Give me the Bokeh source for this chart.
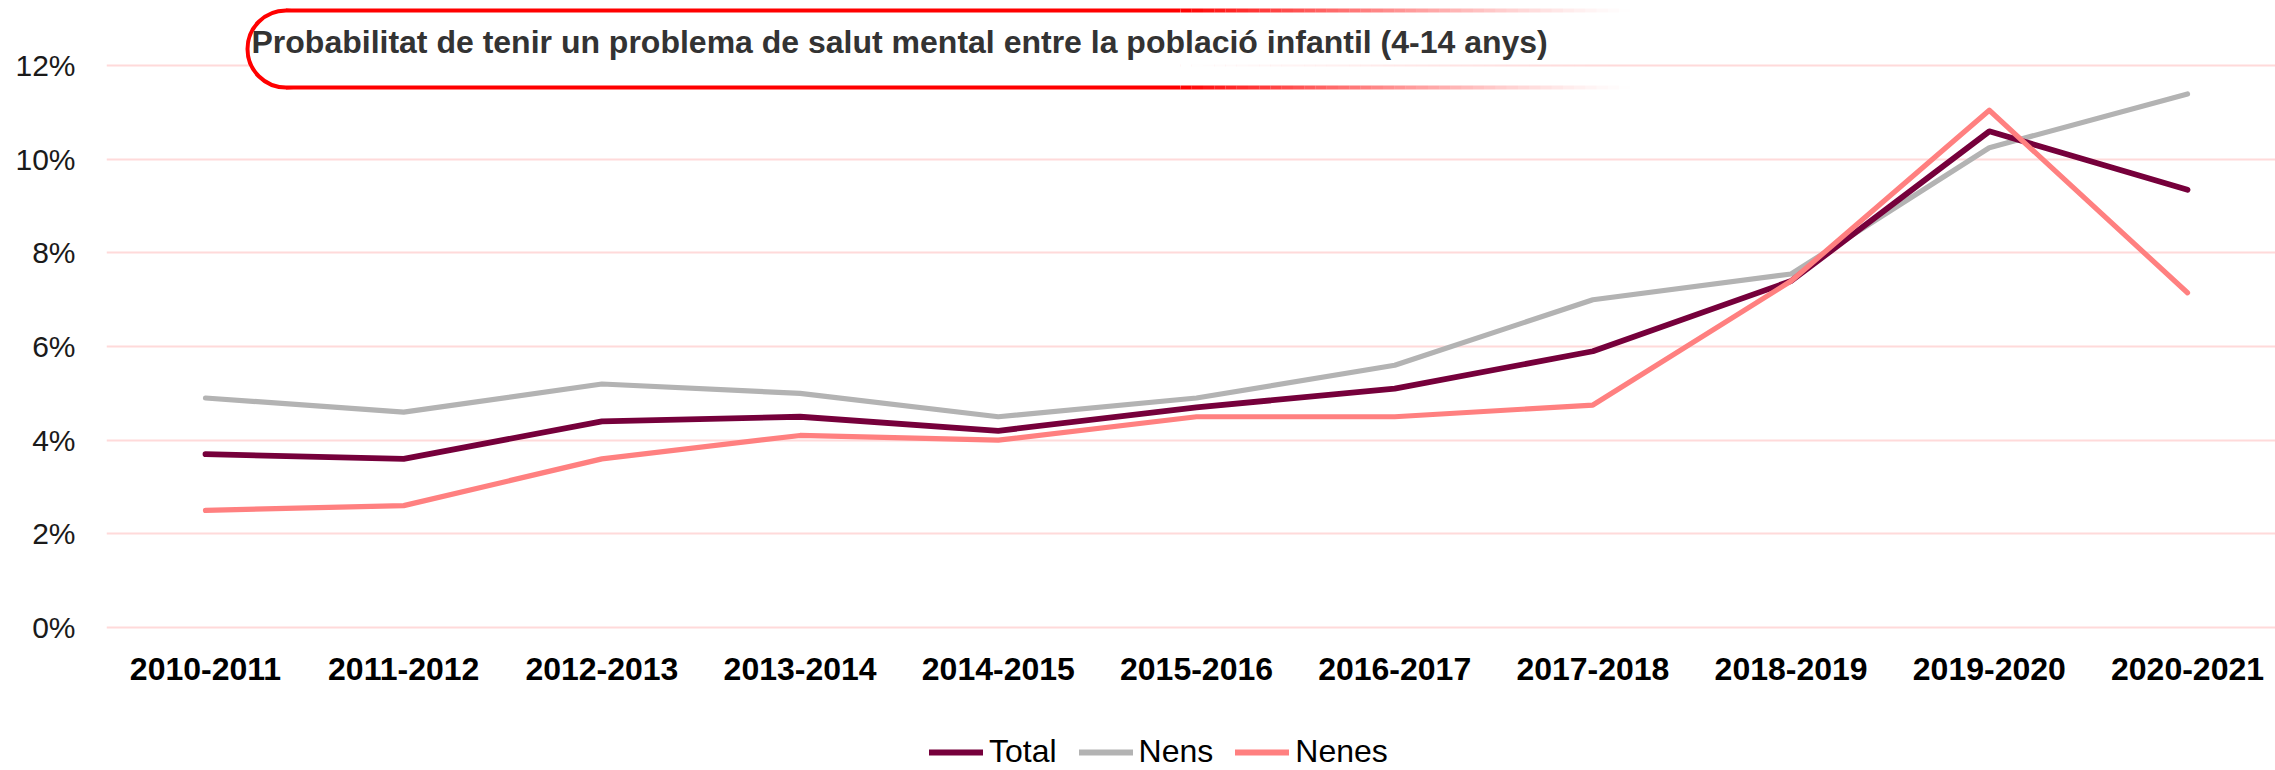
from bokeh.plotting import figure
from bokeh.layouts import column
from bokeh.models import (Range1d, FixedTicker, PrintfTickFormatter, Legend,
                          LegendItem, Label)
from bokeh.embed import file_html
from bokeh.resources import INLINE

# ---------------- data ----------------
periods = ["2010-2011", "2011-2012", "2012-2013", "2013-2014", "2014-2015",
           "2015-2016", "2016-2017", "2017-2018", "2018-2019", "2019-2020",
           "2020-2021"]
total = [3.7, 3.6, 4.4, 4.5, 4.2, 4.7, 5.1, 5.9, 7.4, 10.6, 9.35]
nens = [4.9, 4.6, 5.2, 5.0, 4.5, 4.9, 5.6, 7.0, 7.55, 10.25, 11.4]
nenes = [2.5, 2.6, 3.6, 4.1, 4.0, 4.5, 4.5, 4.75, 7.4, 11.05, 7.15]
y_ticks = [0, 2, 4, 6, 8, 10, 12]
series_names = ["Total", "Nens", "Nenes"]
title_text = "Probabilitat de tenir un problema de salut mental entre la població infantil (4-14 anys)"

# ---------------- layout constants (pixels) ----------------
W, H = 2275, 770
CHART_H = 700
FRAME_L, FRAME_R, FRAME_T, FRAME_B = 106, 2275, 0, 641
X0_PX, X_STEP = 205.0, 198.2      # pixel of first category, pixels per category
Y0_PX, Y_STEP = 626.8, 46.79      # pixel of 0 %, pixels per 1 %


def px2x(px):
    return (px - X0_PX) / X_STEP


def px2y(py):
    return (Y0_PX - py) / Y_STEP


C_TOTAL, C_NENS, C_NENES = "#76003B", "#B3B3B3", "#FF8080"
WIDTHS = {"Total": 5.8, "Nens": 5.2, "Nenes": 5.2}
FONT = "Liberation Sans"

xs = list(range(len(periods)))

p = figure(width=W, height=CHART_H, output_backend="svg", toolbar_location=None,
           x_range=Range1d(px2x(FRAME_L), px2x(FRAME_R)),
           y_range=Range1d(px2y(FRAME_B), px2y(FRAME_T)),
           min_border_left=FRAME_L, min_border_right=0, min_border_top=0,
           min_border_bottom=CHART_H - FRAME_B)
p.outline_line_color = None
p.background_fill_color = "white"
p.border_fill_color = "white"

p.xgrid.visible = False
p.ygrid.grid_line_color = "#FFDADA"
p.ygrid.grid_line_width = 2

p.yaxis.ticker = FixedTicker(ticks=y_ticks)
p.yaxis.formatter = PrintfTickFormatter(format="%d%%")
p.xaxis.ticker = FixedTicker(ticks=xs)
p.xaxis.major_label_overrides = {i: lab for i, lab in zip(xs, periods)}

for ax in (p.xaxis[0], p.yaxis[0]):
    ax.axis_line_color = None
    ax.major_tick_line_color = None
    ax.minor_tick_line_color = None
    ax.major_tick_out = 0
    ax.major_tick_in = 0

p.xaxis.major_label_text_font = FONT
p.xaxis.major_label_text_font_style = "bold"
p.xaxis.major_label_text_font_size = "32px"
p.xaxis.major_label_text_color = "#000000"
p.xaxis.major_label_standoff = 16

p.yaxis.major_label_text_font = FONT
p.yaxis.major_label_text_font_size = "30px"
p.yaxis.major_label_text_color = "#1a1a1a"
p.yaxis.major_label_standoff = 31

# ---------------- title pill (decoration) ----------------
PILL_L, PILL_T, PILL_B = 247, 10, 87
R = (PILL_B - PILL_T) / 2.0
cx, cy = PILL_L + R, (PILL_T + PILL_B) / 2.0
SOLID_END, FADE_END = 1180, 1630
RED = "#FF0000"

p.ellipse(x=[px2x(cx)], y=[px2y(cy)], width=2 * R, height=2 * R,
          width_units="screen", height_units="screen",
          fill_color="white", line_color=RED, line_width=4)
p.quad(left=[px2x(cx)], right=[px2x(SOLID_END)], top=[px2y(PILL_T)],
       bottom=[px2y(PILL_B)], fill_color="white", line_color=None)
p.segment(x0=[px2x(cx), px2x(cx)], x1=[px2x(SOLID_END), px2x(SOLID_END)],
          y0=[px2y(PILL_T), px2y(PILL_B)], y1=[px2y(PILL_T), px2y(PILL_B)],
          line_color=RED, line_width=4, line_cap="butt")
N = 40
step = (FADE_END - SOLID_END) / N
fx0 = [px2x(SOLID_END + i * step) for i in range(N)]
fx1 = [px2x(SOLID_END + (i + 1) * step) for i in range(N)]
falpha = [(1 - (i + 0.5) / N) ** 1.3 for i in range(N)]
p.quad(left=fx0, right=fx1, top=[px2y(PILL_T)] * N, bottom=[px2y(PILL_B)] * N,
       fill_color="white", fill_alpha=falpha, line_color=None)
p.segment(x0=fx0 + fx0, x1=fx1 + fx1,
          y0=[px2y(PILL_T)] * N + [px2y(PILL_B)] * N,
          y1=[px2y(PILL_T)] * N + [px2y(PILL_B)] * N,
          line_color=RED, line_alpha=falpha + falpha, line_width=4,
          line_cap="butt")

# ---------------- data lines ----------------
p.line(xs, nens, line_color=C_NENS, line_width=WIDTHS["Nens"],
       line_cap="round", line_join="round")
p.line(xs, total, line_color=C_TOTAL, line_width=WIDTHS["Total"],
       line_cap="round", line_join="round")
p.line(xs, nenes, line_color=C_NENES, line_width=WIDTHS["Nenes"],
       line_cap="round", line_join="round")

title = Label(x=px2x(251), y=px2y(41), text=title_text, text_font=FONT,
              text_font_style="bold", text_font_size="32px",
              text_color="#333333", text_baseline="middle", text_align="left")
p.add_layout(title)

# ---------------- legend strip (same series, drawn outside its view) ------
LEG_H = H - CHART_H
q = figure(width=W, height=LEG_H, output_backend="svg", toolbar_location=None,
           x_range=Range1d(100, 101), y_range=Range1d(100, 101),
           min_border=0)
q.axis.visible = False
q.grid.visible = False
q.outline_line_color = None
q.background_fill_color = "white"
q.border_fill_color = "white"

q_total = q.line(xs, total, line_color=C_TOTAL, line_width=6, line_cap="round")
q_nens = q.line(xs, nens, line_color=C_NENS, line_width=6, line_cap="round")
q_nenes = q.line(xs, nenes, line_color=C_NENES, line_width=6, line_cap="round")

legend = Legend(items=[LegendItem(label=series_names[0], renderers=[q_total]),
                       LegendItem(label=series_names[1], renderers=[q_nens]),
                       LegendItem(label=series_names[2], renderers=[q_nenes])],
                orientation="horizontal", location=(823, 0),
                glyph_width=54, glyph_height=30, label_standoff=6, spacing=22,
                padding=0, margin=0, border_line_color=None,
                background_fill_alpha=0, label_text_font=FONT,
                label_text_font_size="32px", label_text_color="#000000")
q.add_layout(legend)

layout = column(p, q, spacing=0)
open("out.html", "w").write(file_html(layout, INLINE))
